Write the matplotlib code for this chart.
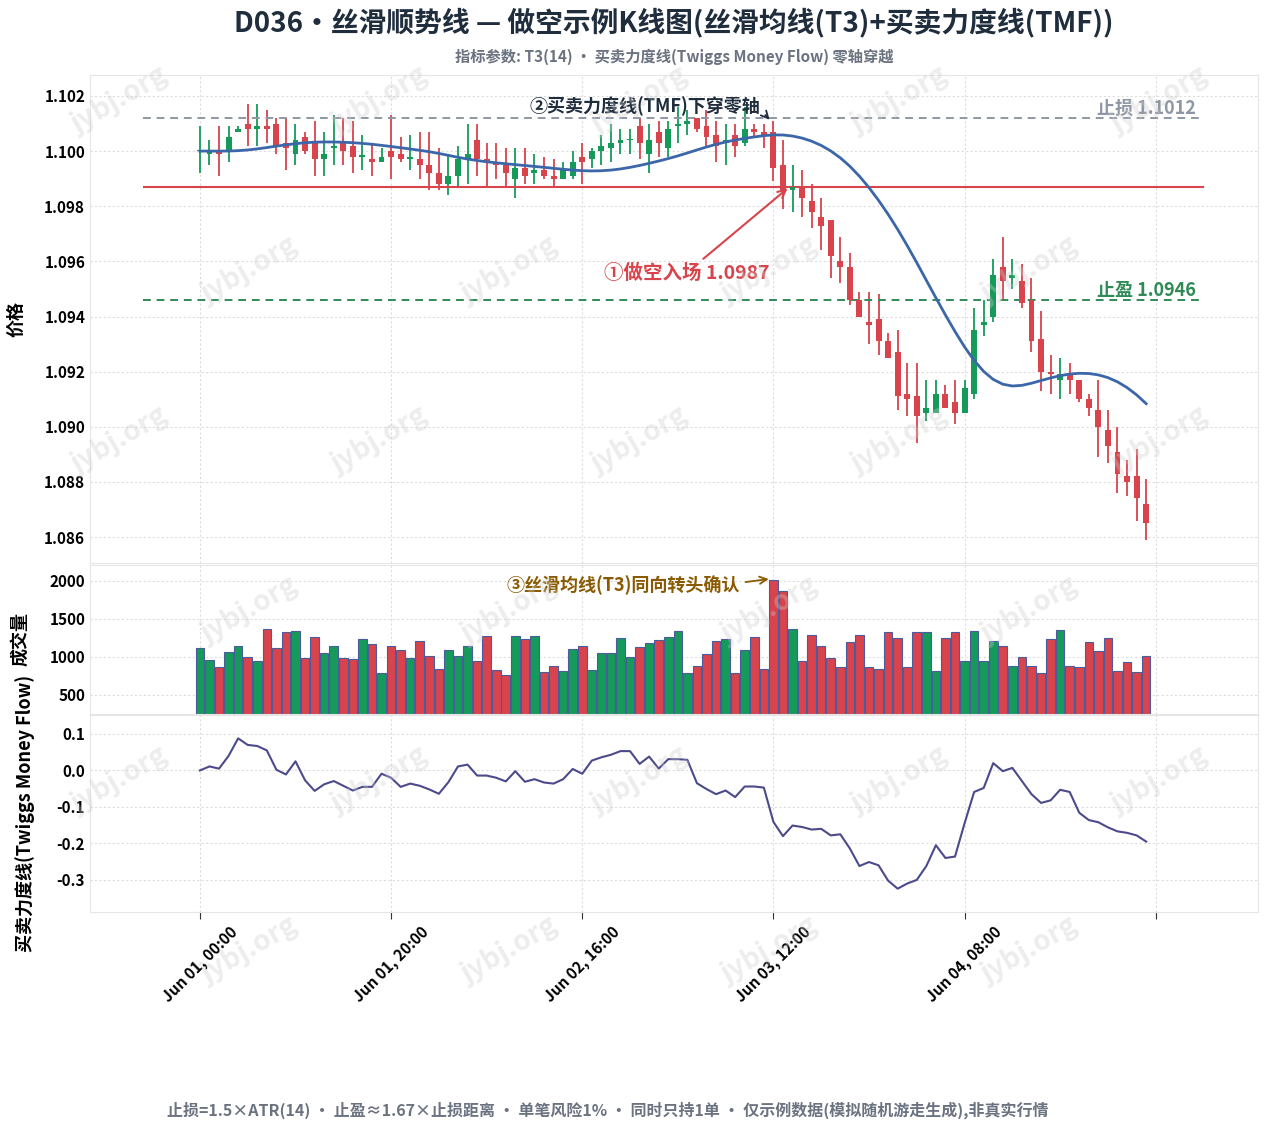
import numpy as np
import pandas as pd
import matplotlib
matplotlib.use("Agg")
import matplotlib.pyplot as plt

plt.rcParams['font.family'] = ['Noto Sans CJK SC', 'DejaVu Sans']
plt.rcParams['axes.unicode_minus'] = False

opens = [1.1000,1.0999,1.1000,1.1000,1.1007,1.1010,1.1008,1.1009,1.1010,1.1003,1.0999,1.1005,1.1003,1.0997,1.1001,1.1003,1.1002,1.0998,1.0997,1.0996,1.1000,1.0999,1.0997,1.0997,1.0995,1.0992,1.0988,1.0991,1.0997,1.1004,1.0997,1.0996,1.0995,1.0990,
         1.0994,1.0992,1.0993,1.0991,1.0990,1.0991,1.0998,1.0997,1.1000,1.1001,1.1003,1.1004,1.1009,1.0999,1.1007,1.1001,1.1009,1.1010,1.1012,1.1009,1.1006,1.1003,1.1006,1.1003,1.1008,1.1007,1.1007,1.0995,1.0986,
         1.0987,1.0982,1.0976,1.0975,1.0960,1.0958,1.0946,1.0938,1.0939,1.0931,1.0927,1.0912,1.0911,1.0905,1.0905,1.0912,1.0909,1.0905,1.0912,1.0937,1.0940,1.0958,1.0954,1.0953,1.0946,1.0932,1.0920,1.0917,1.0919,1.0917,1.0910,1.0906,1.0899,1.0891,1.0882,1.0882,1.0872]
closes = [1.1000,1.1000,1.0999,1.1005,1.1008,1.1008,1.1009,1.1008,1.1002,1.1001,1.1004,1.1000,1.0997,1.0999,1.1002,1.1000,1.0998,1.0998,1.0996,1.0998,1.0998,1.0997,1.0998,1.0995,1.0992,1.0988,1.0991,1.0997,1.0999,1.0997,1.0996,1.0995,1.0992,1.0994,
          1.0991,1.0993,1.0991,1.0990,1.0993,1.0996,1.0996,1.1000,1.1002,1.1003,1.1004,1.1004,1.1003,1.1004,1.1003,1.1008,1.1010,1.1011,1.1008,1.1005,1.1002,1.1004,1.1002,1.1008,1.1007,1.1006,1.0994,1.0986,1.0987,
          1.0983,1.0978,1.0973,1.0962,1.0958,1.0946,1.0940,1.0937,1.0931,1.0925,1.0911,1.0910,1.0904,1.0907,1.0912,1.0907,1.0905,1.0914,1.0935,1.0938,1.0955,1.0953,1.0955,1.0945,1.0931,1.0920,1.0919,1.0919,1.0917,1.0910,1.0907,1.0900,1.0893,1.0883,1.0880,1.0874,1.0865]
highs = [1.1009,1.1004,1.1009,1.1009,1.1009,1.1017,1.1017,1.1015,1.1012,1.1012,1.1010,1.1007,1.1011,1.1007,1.1013,1.1012,1.1011,1.1006,1.1003,1.1001,1.1013,1.1005,1.1006,1.1007,1.1007,1.1001,1.0999,1.1002,1.1010,1.1010,1.1003,1.1003,1.1001,1.1001,
         1.1001,1.0999,1.0998,1.0997,1.0996,1.1000,1.1003,1.1001,1.1006,1.1010,1.1008,1.1008,1.1012,1.1010,1.1011,1.1011,1.1016,1.1015,1.1012,1.1015,1.1011,1.1010,1.1010,1.1016,1.1010,1.1010,1.1011,1.1004,1.0995,
         1.0993,1.0988,1.0983,1.0975,1.0969,1.0963,1.0949,1.0949,1.0948,1.0934,1.0935,1.0923,1.0923,1.0917,1.0917,1.0915,1.0917,1.0917,1.0943,1.0946,1.0961,1.0969,1.0961,1.0959,1.0954,1.0942,1.0926,1.0925,1.0923,1.0917,1.0912,1.0917,1.0906,1.0900,1.0888,1.0892,1.0881]
lows = [1.0992,1.0995,1.0991,1.0996,1.1007,1.1002,1.1002,1.1003,1.0999,1.0993,1.0995,1.0999,1.0991,1.0991,1.0995,1.0995,1.0992,1.0993,1.0991,1.0997,1.0990,1.0996,1.0993,1.0990,1.0986,1.0986,1.0984,1.0987,1.0988,1.0991,1.0987,1.0990,1.0987,1.0983,
        1.0988,1.0988,1.0990,1.0987,1.0991,1.0990,1.0988,1.0994,1.0995,1.0996,1.0999,1.0999,1.0997,1.0992,1.0998,1.0998,1.1003,1.1006,1.1007,1.1002,1.0996,1.0995,1.0998,1.1002,1.1005,1.1001,1.0989,1.0979,1.0978,
        1.0976,1.0972,1.0964,1.0954,1.0952,1.0944,1.0942,1.0930,1.0926,1.0925,1.0906,1.0904,1.0894,1.0902,1.0906,1.0909,1.0901,1.0909,1.0910,1.0933,1.0938,1.0946,1.0950,1.0943,1.0927,1.0913,1.0912,1.0910,1.0912,1.0909,1.0904,1.0889,1.0887,1.0876,1.0875,1.0866,1.0859]
volumes = [1114,961,864,1066,1145,996,947,1364,1114,1329,1342,982,1259,1048,1145,982,969,1237,1171,785,1145,1092,982,1206,1013,838,1092,1013,1145,947,1276,829,759,1276,1237,1276,798,882,816,1105,1145,829,1048,1048,1250,996,1127,1184,1224,1268,
           1342,785,882,1035,1211,1237,785,1092,1259,838,2010,1868,1364,947,1285,1145,982,864,1197,1285,873,847,1329,1246,864,1329,1329,816,1246,1329,947,1342,947,1211,1145,882,996,882,785,1237,1355,882,864,1197,1079,1246,816,934,798,1013]
tmf = [0.000,0.011,0.005,0.040,0.088,0.070,0.067,0.055,0.002,-0.011,0.025,-0.027,-0.056,-0.038,-0.029,-0.042,-0.055,-0.045,-0.045,-0.009,-0.020,-0.045,-0.036,-0.042,-0.052,-0.064,-0.032,0.011,0.016,-0.014,-0.014,-0.020,-0.030,-0.002,-0.031,-0.024,-0.033,-0.036,-0.024,0.004,
       -0.009,0.027,0.036,0.043,0.053,0.053,0.018,0.038,0.005,0.031,0.031,0.029,-0.035,-0.051,-0.065,-0.055,-0.073,-0.044,-0.044,-0.047,-0.141,-0.180,-0.151,-0.155,-0.162,-0.160,-0.178,-0.175,-0.214,-0.262,-0.251,-0.260,-0.302,-0.324,-0.310,-0.300,-0.262,-0.205,-0.240,-0.236,
       -0.145,-0.059,-0.048,0.020,-0.002,0.007,-0.029,-0.065,-0.089,-0.082,-0.053,-0.059,-0.116,-0.136,-0.142,-0.156,-0.167,-0.171,-0.178,-0.195]
tick_pos = [0, 20, 40, 60, 80, 100]
tick_labels = ["Jun 01, 00:00", "Jun 01, 20:00", "Jun 02, 16:00", "Jun 03, 12:00", "Jun 04, 08:00", ""]
entry_price, stop_price, tp_price = 1.0987, 1.1012, 1.0946
entry_idx = 62

RED = "#d9434b"; GREEN = "#159a5a"
o = np.array(opens); c = np.array(closes); h = np.array(highs); l = np.array(lows)
x = np.arange(len(c))

def t3(s, n=14, v=0.7):
    e = lambda z: z.ewm(span=n, adjust=False).mean()
    e1 = e(s); e2 = e(e1); e3 = e(e2); e4 = e(e3); e5 = e(e4); e6 = e(e5)
    c1 = -v**3; c2 = 3*v**2 + 3*v**3; c3 = -6*v**2 - 3*v - 3*v**3; c4 = 1 + 3*v + v**3 + 3*v**2
    return c1*e6 + c2*e5 + c3*e4 + c4*e3
t3line = t3(pd.Series(c)).values

fig = plt.figure(figsize=(12.69, 11.31), dpi=100)
L, R = 90/1269, 1258/1269
def rect(top, bot):
    return [L, 1-bot/1131, R-L, (bot-top)/1131]
ax1 = fig.add_axes(rect(75, 563))
ax2 = fig.add_axes(rect(565, 714), sharex=ax1)
ax3 = fig.add_axes(rect(715, 912), sharex=ax1)

cols = [GREEN if cc >= oo else RED for oo, cc in zip(o, c)]
ax1.vlines(x, l, h, colors=cols, lw=1.3, zorder=2)
bh = np.maximum(np.abs(c-o), 0.00005)
ax1.bar(x, bh, bottom=np.minimum(o, c), width=0.62, color=cols, zorder=3)
ax1.plot(x, t3line, color="#3c66aa", lw=2, zorder=4)
ax1.hlines(stop_price, -6, 105, colors="#8e97a3", ls=(0, (4, 3)), lw=1.4)
ax1.hlines(tp_price, -6, 105, colors="#2f8a56", ls=(0, (4, 3)), lw=1.4)
ax1.hlines(entry_price, -6, 105, colors=RED, lw=1.5)
ax1.text(104.2, stop_price, "止损 1.1012", color="#8e97a3", fontsize=13, fontweight="bold", ha="right", va="bottom")
ax1.text(104.2, tp_price, "止盈 1.0946", color="#2f8a56", fontsize=13, fontweight="bold", ha="right", va="bottom")
ax1.annotate("①做空入场 1.0987", xy=(entry_idx-0.3, entry_price+0.00001), xytext=(50.9, 1.09558),
             color=RED, fontsize=14, fontweight="bold", ha="center", va="center",
             arrowprops=dict(arrowstyle="->", color=RED, lw=1.5))
ax1.annotate("②买卖力度线(TMF)下穿零轴", xy=(59.8, 1.10106), xytext=(46.6, 1.10164),
             color="#1f2d3d", fontsize=13, fontweight="bold", ha="center", va="center",
             arrowprops=dict(arrowstyle="->", color="#1f2d3d", lw=1.3, relpos=(1, 0.3)))
ax1.set_xlim(-11.5, 110.7)
ax1.set_ylim(1.08506, 1.10276)
ax1.set_yticks([1.086, 1.088, 1.090, 1.092, 1.094, 1.096, 1.098, 1.100, 1.102])
ax1.yaxis.set_major_formatter(matplotlib.ticker.FormatStrFormatter("%.3f"))
ax1.set_ylabel("价格", fontsize=13, fontweight="bold")

ax2.bar(x, np.array(volumes)-250, bottom=250, width=0.9, color=cols, edgecolor="#4b5c9e", lw=0.8)
ax2.set_ylim(250, 2210)
ax2.set_yticks([500, 1000, 1500, 2000])
ax2.set_ylabel("成交量", fontsize=13, fontweight="bold")
ax2.annotate("③丝滑均线(T3)同向转头确认", xy=(59.8, 2030), xytext=(44.3, 1950),
             color="#8a5a00", fontsize=13, fontweight="bold", ha="center", va="center",
             arrowprops=dict(arrowstyle="->", color="#8a5a00", lw=1.3, relpos=(1, 0.6)))

ax3.plot(x, tmf, color="#4b4a8a", lw=1.5)
ax3.set_ylim(-0.388, 0.152)
ax3.set_yticks([-0.3, -0.2, -0.1, 0.0, 0.1])
ax3.yaxis.set_major_formatter(matplotlib.ticker.FormatStrFormatter("%.1f"))
ax3.set_ylabel("买卖力度线(Twiggs Money Flow)", fontsize=13, fontweight="bold")
ax3.set_xticks(tick_pos)
ax3.set_xticklabels(tick_labels, rotation=45, ha="center", fontsize=11, fontweight="bold")

for ax in (ax1, ax2, ax3):
    ax.grid(True, color="#dddddd", ls=(0, (2, 2)), lw=0.8)
    ax.set_axisbelow(True)
    for s in ax.spines.values():
        s.set_color("#e6e6e6")
    ax.tick_params(axis="y", labelsize=11, length=0)
    for t in ax.get_yticklabels():
        t.set_fontweight("bold")
ax1.tick_params(axis="x", bottom=False, labelbottom=False)
ax2.tick_params(axis="x", bottom=False, labelbottom=False)
ax3.tick_params(axis="x", length=5, color="#333333")
ax1.yaxis.set_label_coords(-0.055, 0.5)
ax2.yaxis.set_label_coords(-0.052, 0.5)
ax3.yaxis.set_label_coords(-0.047, 0.5)

fig.text(674/1269, 1-22/1131, "D036・丝滑顺势线 — 做空示例K线图(丝滑均线(T3)+买卖力度线(TMF))",
         ha="center", va="center", fontsize=20, fontweight="bold", color="#1f2d3d")
fig.text(674/1269, 1-57/1131, "指标参数: T3(14) · 买卖力度线(Twiggs Money Flow) 零轴穿越",
         ha="center", va="center", fontsize=11, fontweight="bold", color="#6b7280")
fig.text(608/1269, 1-1110/1131, "止损=1.5×ATR(14) · 止盈≈1.67×止损距离 · 单笔风险1% · 同时只持1单 · 仅示例数据(模拟随机游走生成),非真实行情",
         ha="center", va="center", fontsize=11.5, fontweight="bold", color="#6b7280")

for r, yy in enumerate([100, 270, 440, 610, 780, 950]):
    off = 0 if r % 2 == 0 else 130
    for xx in range(120, 1200, 260):
        px = xx + off
        if px > 1190:
            continue
        fig.text(px/1269, 1-yy/1131, "jybj.org", fontsize=20, fontweight="bold",
                 color="#cccccc", alpha=0.35, rotation=30, ha="center", va="center")

fig.savefig("out.png", dpi=100)
